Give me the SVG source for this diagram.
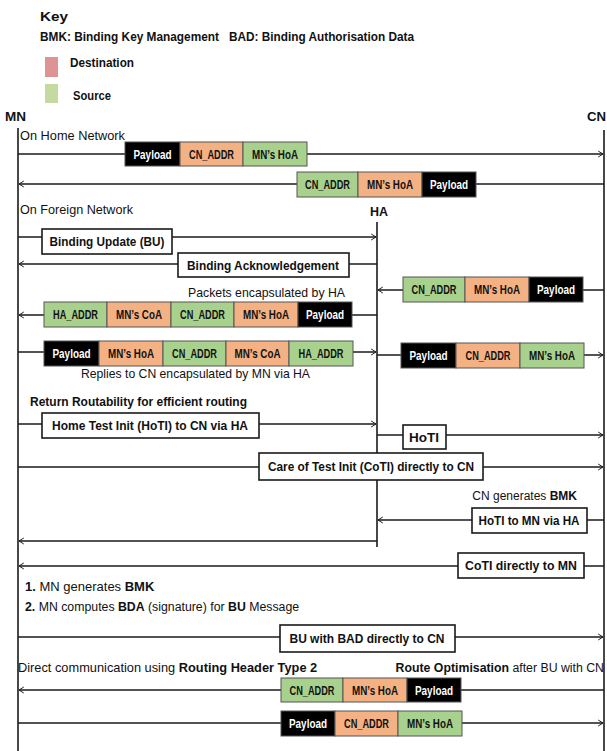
<svg xmlns="http://www.w3.org/2000/svg" width="607" height="751" viewBox="0 0 607 751">
<defs>
<marker id="ah" viewBox="0 0 10 12" refX="9" refY="6" markerWidth="6" markerHeight="8" markerUnits="userSpaceOnUse" orient="auto">
<path d="M1,1 L9,6 L1,11" fill="none" stroke="#1a1a1a" stroke-width="1.6"/>
</marker>
<style>
.t{font-family:"Liberation Sans",Arial,sans-serif;font-size:13.5px;fill:#111}
.b{font-weight:bold}
.lane{stroke:#1a1a1a;stroke-width:1.6;fill:none}
.msg{stroke:#1a1a1a;stroke-width:1.6;fill:none;marker-end:url(#ah)}
.g{fill:#a9d18e;stroke:#555;stroke-width:1}
.o{fill:#f4b183;stroke:#555;stroke-width:1}
.k{fill:#000;stroke:#555;stroke-width:1}
.w{fill:#fff;stroke:#1a1a1a;stroke-width:1.6}
.p{font-family:"Liberation Sans",Arial,sans-serif;font-size:12.5px;font-weight:bold;text-anchor:middle;fill:#111}
.pw{fill:#fff}
.m{font-family:"Liberation Sans",Arial,sans-serif;font-size:13.5px;font-weight:bold;text-anchor:middle;fill:#111}
</style>
</defs>
<rect width="607" height="751" fill="#fff"/>

<g id="key">
<text class="t b" x="40" y="21" textLength="28" lengthAdjust="spacingAndGlyphs">Key</text>
<text class="t b" x="40" y="41" textLength="179" lengthAdjust="spacingAndGlyphs">BMK: Binding Key Management</text>
<text class="t b" x="229" y="41" textLength="185" lengthAdjust="spacingAndGlyphs">BAD: Binding Authorisation Data</text>
<rect x="45" y="57" width="13" height="20" fill="#dc9494"/>
<text class="t b" x="70" y="67" textLength="64" lengthAdjust="spacingAndGlyphs">Destination</text>
<rect x="45" y="84" width="13" height="19" fill="#c4da9f"/>
<text class="t b" x="73" y="100" textLength="38" lengthAdjust="spacingAndGlyphs">Source</text>
</g>

<g id="MN">
<text class="t b" x="5" y="121" textLength="21" lengthAdjust="spacingAndGlyphs">MN</text>
<line class="lane" x1="18" y1="128" x2="18" y2="751"/>
</g>
<g id="CN">
<text class="t b" x="587" y="121" textLength="19" lengthAdjust="spacingAndGlyphs">CN</text>
<line class="lane" x1="604" y1="130" x2="604" y2="751"/>
</g>
<g id="HA">
<text class="t b" x="370" y="216" textLength="18" lengthAdjust="spacingAndGlyphs">HA</text>
<line class="lane" x1="377" y1="222" x2="377" y2="547"/>
</g>

<g id="labels">
<text class="t" x="20" y="140" textLength="105" lengthAdjust="spacingAndGlyphs">On Home Network</text>
<text class="t" x="20" y="214" textLength="113" lengthAdjust="spacingAndGlyphs">On Foreign Network</text>
<text class="t" x="188" y="297" textLength="157" lengthAdjust="spacingAndGlyphs">Packets encapsulated by HA</text>
<text class="t" x="81" y="378" textLength="229" lengthAdjust="spacingAndGlyphs">Replies to CN encapsulated by MN via HA</text>
<text class="t b" x="30" y="406" textLength="217" lengthAdjust="spacingAndGlyphs">Return Routability for efficient routing</text>
<text class="t" x="577" y="500" text-anchor="end" style="font-size:12px">CN generates <tspan class="b">BMK</tspan></text>
<text class="t" x="25" y="591" style="font-size:13px"><tspan class="b">1.</tspan> MN generates <tspan class="b">BMK</tspan></text>
<text class="t" x="25" y="611" style="font-size:12.3px"><tspan class="b">2.</tspan> MN computes <tspan class="b">BDA</tspan> (signature) for <tspan class="b">BU</tspan> Message</text>
<text class="t" x="18" y="672" style="font-size:12.8px">Direct communication using <tspan class="b">Routing Header Type 2</tspan></text>
<text class="t" x="604" y="672" text-anchor="end" style="font-size:12.3px"><tspan class="b">Route Optimisation</tspan> after BU with CN</text>
</g>

<g id="connectors">
<line class="msg" x1="18" y1="154" x2="603" y2="154"/>
<line class="msg" x1="604" y1="184" x2="19" y2="184"/>
<line class="msg" x1="18" y1="237" x2="376" y2="237"/>
<line class="msg" x1="377" y1="264" x2="19" y2="264"/>
<line class="msg" x1="604" y1="290" x2="378" y2="290"/>
<line class="msg" x1="377" y1="315" x2="19" y2="315"/>
<line class="msg" x1="18" y1="352" x2="376" y2="352"/>
<line class="msg" x1="377" y1="355" x2="603" y2="355"/>
<line class="msg" x1="18" y1="424" x2="376" y2="424"/>
<line class="msg" x1="377" y1="435" x2="603" y2="435"/>
<line class="msg" x1="18" y1="467" x2="603" y2="467"/>
<line class="msg" x1="604" y1="520" x2="378" y2="520"/>
<line class="msg" x1="377" y1="541" x2="19" y2="541"/>
<line class="msg" x1="604" y1="566" x2="19" y2="566"/>
<line class="msg" x1="18" y1="637" x2="603" y2="637"/>
<line class="msg" x1="604" y1="690" x2="19" y2="690"/>
<line class="msg" x1="18" y1="723" x2="603" y2="723"/>
</g>

<g id="msg-boxes">
<rect class="w" x="42" y="229" width="130" height="25"/>
<text class="m" x="107" y="246" textLength="115" lengthAdjust="spacingAndGlyphs">Binding Update (BU)</text>
<rect class="w" x="178" y="253" width="171" height="24"/>
<text class="m" x="263" y="270" textLength="152" lengthAdjust="spacingAndGlyphs">Binding Acknowledgement</text>
<rect class="w" x="42" y="413" width="217" height="25"/>
<text class="m" x="150" y="430" textLength="196" lengthAdjust="spacingAndGlyphs">Home Test Init (HoTI) to CN via HA</text>
<rect class="w" x="403" y="425" width="43" height="24"/>
<text class="m" x="424" y="442" textLength="30" lengthAdjust="spacingAndGlyphs">HoTI</text>
<rect class="w" x="259" y="453" width="224" height="27"/>
<text class="m" x="371" y="471" textLength="206" lengthAdjust="spacingAndGlyphs">Care of Test Init (CoTI) directly to CN</text>
<rect class="w" x="472" y="508" width="115" height="25"/>
<text class="m" x="529" y="525" textLength="101" lengthAdjust="spacingAndGlyphs">HoTI to MN via HA</text>
<rect class="w" x="458" y="553" width="126" height="25"/>
<text class="m" x="521" y="570" textLength="112" lengthAdjust="spacingAndGlyphs">CoTI directly to MN</text>
<rect class="w" x="280" y="625" width="175" height="27"/>
<text class="m" x="367" y="643" textLength="155" lengthAdjust="spacingAndGlyphs">BU with BAD directly to CN</text>
</g>

<g id="packets">
<rect class="k" x="125" y="142" width="55" height="24"/><text class="p pw" x="152.5" y="158.5" textLength="38" lengthAdjust="spacingAndGlyphs">Payload</text>
<rect class="o" x="180" y="142" width="63" height="24"/><text class="p" x="211.5" y="158.5" textLength="45" lengthAdjust="spacingAndGlyphs">CN_ADDR</text>
<rect class="g" x="243" y="142" width="64" height="24"/><text class="p" x="275" y="158.5" textLength="46" lengthAdjust="spacingAndGlyphs">MN’s HoA</text>

<rect class="g" x="297" y="172" width="61" height="25"/><text class="p" x="327.5" y="189" textLength="45" lengthAdjust="spacingAndGlyphs">CN_ADDR</text>
<rect class="o" x="358" y="172" width="64" height="25"/><text class="p" x="390" y="189" textLength="46" lengthAdjust="spacingAndGlyphs">MN’s HoA</text>
<rect class="k" x="422" y="172" width="54" height="25"/><text class="p pw" x="449" y="189" textLength="38" lengthAdjust="spacingAndGlyphs">Payload</text>

<rect class="g" x="403" y="277" width="62" height="25"/><text class="p" x="434" y="294" textLength="45" lengthAdjust="spacingAndGlyphs">CN_ADDR</text>
<rect class="o" x="465" y="277" width="64" height="25"/><text class="p" x="497" y="294" textLength="46" lengthAdjust="spacingAndGlyphs">MN’s HoA</text>
<rect class="k" x="529" y="277" width="54" height="25"/><text class="p pw" x="556" y="294" textLength="38" lengthAdjust="spacingAndGlyphs">Payload</text>

<rect class="g" x="44" y="302" width="63" height="25"/><text class="p" x="75.5" y="319" textLength="45" lengthAdjust="spacingAndGlyphs">HA_ADDR</text>
<rect class="o" x="107" y="302" width="64" height="25"/><text class="p" x="139" y="319" textLength="46" lengthAdjust="spacingAndGlyphs">MN’s CoA</text>
<rect class="g" x="171" y="302" width="63" height="25"/><text class="p" x="202.5" y="319" textLength="45" lengthAdjust="spacingAndGlyphs">CN_ADDR</text>
<rect class="o" x="234" y="302" width="64" height="25"/><text class="p" x="266" y="319" textLength="46" lengthAdjust="spacingAndGlyphs">MN’s HoA</text>
<rect class="k" x="298" y="302" width="54" height="25"/><text class="p pw" x="325" y="319" textLength="38" lengthAdjust="spacingAndGlyphs">Payload</text>

<rect class="k" x="44" y="341" width="55" height="25"/><text class="p pw" x="71.5" y="358" textLength="38" lengthAdjust="spacingAndGlyphs">Payload</text>
<rect class="o" x="99" y="341" width="64" height="25"/><text class="p" x="131" y="358" textLength="46" lengthAdjust="spacingAndGlyphs">MN’s HoA</text>
<rect class="g" x="163" y="341" width="63" height="25"/><text class="p" x="194.5" y="358" textLength="45" lengthAdjust="spacingAndGlyphs">CN_ADDR</text>
<rect class="o" x="226" y="341" width="63" height="25"/><text class="p" x="257.5" y="358" textLength="46" lengthAdjust="spacingAndGlyphs">MN’s CoA</text>
<rect class="g" x="289" y="341" width="64" height="25"/><text class="p" x="321" y="358" textLength="45" lengthAdjust="spacingAndGlyphs">HA_ADDR</text>

<rect class="k" x="401" y="343" width="55" height="25"/><text class="p pw" x="428.5" y="360" textLength="38" lengthAdjust="spacingAndGlyphs">Payload</text>
<rect class="o" x="456" y="343" width="64" height="25"/><text class="p" x="488" y="360" textLength="45" lengthAdjust="spacingAndGlyphs">CN_ADDR</text>
<rect class="g" x="520" y="343" width="64" height="25"/><text class="p" x="552" y="360" textLength="46" lengthAdjust="spacingAndGlyphs">MN’s HoA</text>

<rect class="g" x="281" y="678" width="62" height="24"/><text class="p" x="312" y="694.5" textLength="45" lengthAdjust="spacingAndGlyphs">CN_ADDR</text>
<rect class="o" x="343" y="678" width="64" height="24"/><text class="p" x="375" y="694.5" textLength="46" lengthAdjust="spacingAndGlyphs">MN’s HoA</text>
<rect class="k" x="407" y="678" width="54" height="24"/><text class="p pw" x="434" y="694.5" textLength="38" lengthAdjust="spacingAndGlyphs">Payload</text>

<rect class="k" x="281" y="711" width="54" height="25"/><text class="p pw" x="308" y="728" textLength="38" lengthAdjust="spacingAndGlyphs">Payload</text>
<rect class="o" x="335" y="711" width="63" height="25"/><text class="p" x="366.5" y="728" textLength="45" lengthAdjust="spacingAndGlyphs">CN_ADDR</text>
<rect class="g" x="398" y="711" width="64" height="25"/><text class="p" x="430" y="728" textLength="46" lengthAdjust="spacingAndGlyphs">MN’s HoA</text>
</g>
</svg>
